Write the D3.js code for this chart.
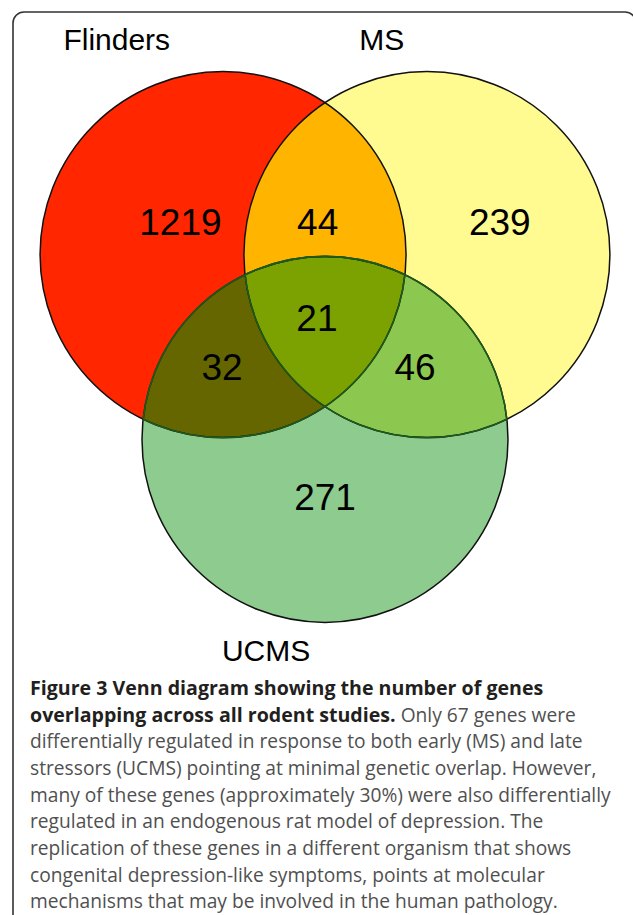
<!DOCTYPE html>
<html>
<head>
<meta charset="utf-8">
<script src="https://cdn.jsdelivr.net/npm/d3@7"></script>
<style>
  html, body { margin: 0; padding: 0; background: #ffffff; }
  svg { display: block; }
</style>
</head>
<body>
<script>
// ---- data ----
const setNames = ["Flinders", "MS", "UCMS"];
const regionKeys = ["F", "M", "U", "FM", "FU", "MU", "FMU"];
const regionCounts = [1219, 239, 271, 44, 32, 46, 21];
const regionColors = ["#ff2600", "#fffb90", "#8dcb8e", "#ffb400", "#666600", "#8cc84f", "#7ba200"];
const captionLines = [
  [{b: true, t: "Figure 3 Venn diagram showing the number of genes"}],
  [{b: true, t: "overlapping across all rodent studies."}, {b: false, t: " Only 67 genes were"}],
  [{b: false, t: "differentially regulated in response to both early (MS) and late"}],
  [{b: false, t: "stressors (UCMS) pointing at minimal genetic overlap. However,"}],
  [{b: false, t: "many of these genes (approximately 30%) were also differentially"}],
  [{b: false, t: "regulated in an endogenous rat model of depression. The"}],
  [{b: false, t: "replication of these genes in a different organism that shows"}],
  [{b: false, t: "congenital depression-like symptoms, points at molecular"}],
  [{b: false, t: "mechanisms that may be involved in the human pathology."}]
];

// ---- layout (venn units, radius = 1) ----
const W = 633, H = 915;
const circles = [
  {key: "F", cx: -0.557, cy: -0.505},
  {key: "M", cx: 0.557, cy: -0.505},
  {key: "U", cx: 0.0, cy: 0.505}
];
const labelPos = {
  F: [-0.79, -0.683], M: [0.955, -0.683], U: [0.0, 0.82],
  FM: [-0.04, -0.683], FU: [-0.563, 0.109], MU: [0.492, 0.109], FMU: [-0.044, -0.158]
};
const setLabelPos = [[-1.138, -1.625], [0.31, -1.625], [-0.322, 1.716]];

const x = d3.scaleLinear().domain([-1, 1]).range([142, 508]);
const y = d3.scaleLinear().domain([-1, 1]).range([164, 530]);
const r = (x(1) - x(-1)) / 2;

const svg = d3.select("body").append("svg").attr("width", W).attr("height", H);
const defs = svg.append("defs");
circles.forEach(c => {
  defs.append("clipPath").attr("id", "clip" + c.key)
    .append("circle").attr("cx", x(c.cx)).attr("cy", y(c.cy)).attr("r", r);
});
const colorOf = k => regionColors[regionKeys.indexOf(k)];
const C = k => circles.find(c => c.key === k);

// single sets
circles.forEach(c => {
  svg.append("circle").attr("cx", x(c.cx)).attr("cy", y(c.cy)).attr("r", r)
    .attr("fill", colorOf(c.key));
});
// pairwise
[["FM", "M", "F"], ["FU", "U", "F"], ["MU", "U", "M"]].forEach(([k, a, b]) => {
  const c = C(a);
  svg.append("g").attr("clip-path", `url(#clip${b})`)
    .append("circle").attr("cx", x(c.cx)).attr("cy", y(c.cy)).attr("r", r)
    .attr("fill", colorOf(k));
});
// triple
{
  const c = C("U");
  svg.append("g").attr("clip-path", "url(#clipF)")
    .append("g").attr("clip-path", "url(#clipM)")
    .append("circle").attr("cx", x(c.cx)).attr("cy", y(c.cy)).attr("r", r)
    .attr("fill", colorOf("FMU"));
}
// outlines
circles.forEach(c => {
  svg.append("circle").attr("cx", x(c.cx)).attr("cy", y(c.cy)).attr("r", r)
    .attr("fill", "none").attr("stroke", "#111").attr("stroke-width", 1.5);
});
// inner outlines inside UCMS appear dark green
["F", "M"].forEach(k => {
  const c = C(k);
  svg.append("g").attr("clip-path", "url(#clipU)")
    .append("circle").attr("cx", x(c.cx)).attr("cy", y(c.cy)).attr("r", r)
    .attr("fill", "none").attr("stroke", "#1e5a1e").attr("stroke-width", 1.6);
});
["F", "M"].forEach(k => {
  const c = C("U");
  svg.append("g").attr("clip-path", `url(#clip${k})`)
    .append("circle").attr("cx", x(c.cx)).attr("cy", y(c.cy)).attr("r", r)
    .attr("fill", "none").attr("stroke", "#1e5a1e").attr("stroke-width", 1.6);
});

// region counts
svg.append("g").selectAll("text").data(regionKeys).join("text")
  .attr("x", k => x(labelPos[k][0]))
  .attr("y", k => y(labelPos[k][1]))
  .attr("dy", "0.36em")
  .attr("text-anchor", "middle")
  .attr("font-family", "Liberation Sans, Arial, sans-serif")
  .attr("font-size", 37)
  .attr("fill", "#000")
  .text((k, i) => regionCounts[i]);

// set labels
svg.append("g").selectAll("text").data(setNames).join("text")
  .attr("x", (d, i) => x(setLabelPos[i][0]))
  .attr("y", (d, i) => y(setLabelPos[i][1]))
  .attr("text-anchor", "middle")
  .attr("font-family", "Liberation Sans, Arial, sans-serif")
  .attr("font-size", 30)
  .attr("fill", "#000")
  .text(d => d);

// frame
svg.append("rect").attr("x", 13).attr("y", 12).attr("width", 623).attr("height", 960)
  .attr("rx", 11).attr("fill", "none").attr("stroke", "#333").attr("stroke-width", 1.6);

// caption
const cap = svg.append("text")
  .attr("font-family", "'Open Sans', sans-serif");
captionLines.forEach((line, i) => {
  line.forEach((seg, j) => {
    const ts = cap.append("tspan").text(seg.t)
      .attr("font-weight", seg.b ? 700 : 400)
      .attr("font-size", seg.b ? 19.6 : 19.2)
      .attr("fill", seg.b ? "#231f20" : "#505050");
    if (j === 0) ts.attr("x", 30).attr("y", 695 + i * 26.65);
  });
});
</script>
</body>
</html>
